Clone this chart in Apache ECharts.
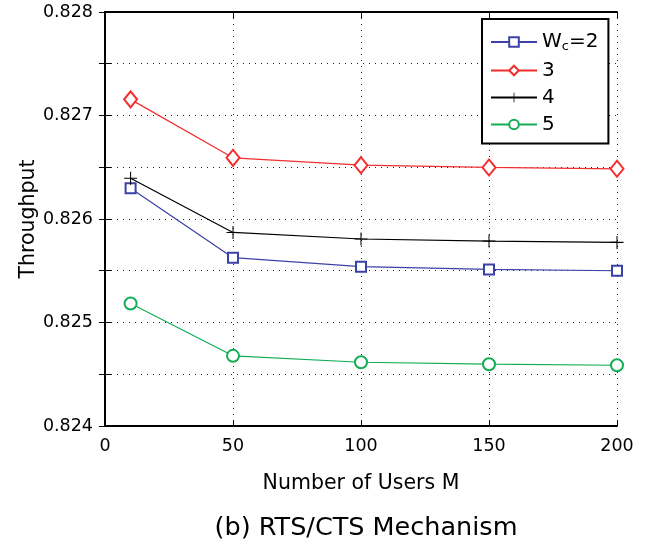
<!DOCTYPE html>
<html>
<head>
<meta charset="utf-8">
<script src="https://cdn.jsdelivr.net/npm/echarts@6/dist/echarts.min.js"></script>
<style>html,body{margin:0;padding:0;background:#fff;}#c{width:656px;height:543px;}</style>
</head>
<body>
<div id="c"></div>
<script>
const users = [10, 50, 100, 150, 200];
const wc2 = [0.826298, 0.825626, 0.825539, 0.825513, 0.825500];
const wc3 = [0.827156, 0.826591, 0.826520, 0.826498, 0.826485];
const wc4 = [0.826394, 0.825870, 0.825807, 0.825787, 0.825774];
const wc5 = [0.825183, 0.824678, 0.824616, 0.824597, 0.824587];
const seriesNames = ['Wc=2', '3', '4', '5'];
const xTicks = [0, 50, 100, 150, 200];
const yTickLabels = ['0.824', '0.825', '0.826', '0.827', '0.828'];

const font = 'DejaVu Sans, Liberation Sans, sans-serif';
const plusPath = 'path://M4.6,0H5.4V4.6H10V5.4H5.4V10H4.6V5.4H0V4.6H4.6Z';

function pts(arr) { return users.map((u, i) => [u, arr[i]]); }

const chart = echarts.init(document.getElementById('c'), null, {renderer: 'canvas'});
const gridLine = {show: true, lineStyle: {color: '#222', type: [1, 5], width: 1}};
const axisLineStyle = {show: true, lineStyle: {color: '#000', width: 2}};

function yLabel(v) {
  const s = v.toFixed(3);
  return yTickLabels.indexOf(s) >= 0 && Math.abs(v * 1000 - Math.round(v * 1000)) < 1e-6 ? s : '';
}

chart.setOption({
  backgroundColor: '#fff',
  animation: false,
  title: {
    text: '(b) RTS/CTS Mechanism',
    left: 361, top: 510, textAlign: 'center',
    textStyle: {fontFamily: font, fontSize: 25.5, fontWeight: 'normal', color: '#000'}
  },
  grid: {left: 105, right: 39, top: 12, bottom: 117, show: false},
  legend: {
    data: seriesNames,
    orient: 'vertical',
    left: 482, top: 19,
    padding: [13, 10, 9, 8],
    itemGap: 7,
    itemWidth: 46, itemHeight: 12,
    borderColor: '#000', borderWidth: 2,
    backgroundColor: '#fff',
    textStyle: {fontFamily: font, fontSize: 20, color: '#000',
      rich: {a: {fontFamily: font, fontSize: 20, color: '#000'},
             b: {fontFamily: font, fontSize: 13, color: '#000', verticalAlign: 'bottom', padding: [10, 0, 0, 0]}}},
    formatter: function (n) { return n === 'Wc=2' ? '{a|W}{b|c}{a|=2}' : n; }
  },
  xAxis: [{
    type: 'value', min: xTicks[0], max: xTicks[xTicks.length - 1], interval: 50,
    position: 'bottom',
    name: 'Number of Users M', nameLocation: 'middle', nameGap: 47,
    nameTextStyle: {fontFamily: font, fontSize: 20.5, color: '#000'},
    axisLine: axisLineStyle,
    axisTick: {show: true, inside: true, length: 6, lineStyle: {color: '#000', width: 1}},
    axisLabel: {fontFamily: font, fontSize: 17.5, color: '#000', margin: 11},
    splitLine: gridLine
  }, {
    type: 'value', min: 0, max: 200, interval: 50, position: 'top',
    axisLine: axisLineStyle,
    axisTick: {show: true, inside: true, length: 6, lineStyle: {color: '#000', width: 1}},
    axisLabel: {show: false}, splitLine: {show: false}
  }],
  yAxis: [{
    type: 'value', min: 0.824, max: 0.828, interval: 0.0005,
    position: 'left',
    name: 'Throughput', nameLocation: 'middle', nameGap: 66, nameMoveOverlap: false,
    nameTextStyle: {fontFamily: font, fontSize: 20.5, color: '#000'},
    axisLine: axisLineStyle,
    axisTick: {show: true, inside: true, length: 6, lineStyle: {color: '#000', width: 1}},
    axisLabel: {fontFamily: font, fontSize: 17.5, color: '#000', margin: 12, formatter: yLabel, showMinLabel: true, showMaxLabel: true},
    splitLine: gridLine
  }, {
    type: 'value', min: 0.824, max: 0.828, interval: 0.0005, position: 'right',
    axisLine: axisLineStyle,
    axisTick: {show: true, inside: true, length: 6, lineStyle: {color: '#000', width: 1}},
    axisLabel: {show: false}, splitLine: {show: false}
  }],
  series: [
    {name: seriesNames[0], type: 'line', data: pts(wc2), symbol: 'emptyRect', symbolSize: 10,
     lineStyle: {color: '#3b41a6', width: 1.2}, itemStyle: {color: '#3b41a6', borderWidth: 1.2}, z: 3},
    {name: seriesNames[1], type: 'line', data: pts(wc3), symbol: 'emptyDiamond', symbolSize: [13, 16],
     lineStyle: {color: '#f22e2e', width: 1.2}, itemStyle: {color: '#f22e2e', borderWidth: 1.2}, z: 3},
    {name: seriesNames[2], type: 'line', data: pts(wc4), symbol: plusPath, symbolSize: 13,
     lineStyle: {color: '#000', width: 1.2}, itemStyle: {color: '#000'}, z: 3},
    {name: seriesNames[3], type: 'line', data: pts(wc5), symbol: 'emptyCircle', symbolSize: 12,
     lineStyle: {color: '#14ad55', width: 1.2}, itemStyle: {color: '#14ad55', borderWidth: 1.2}, z: 3}
  ]
});
</script>
</body>
</html>
